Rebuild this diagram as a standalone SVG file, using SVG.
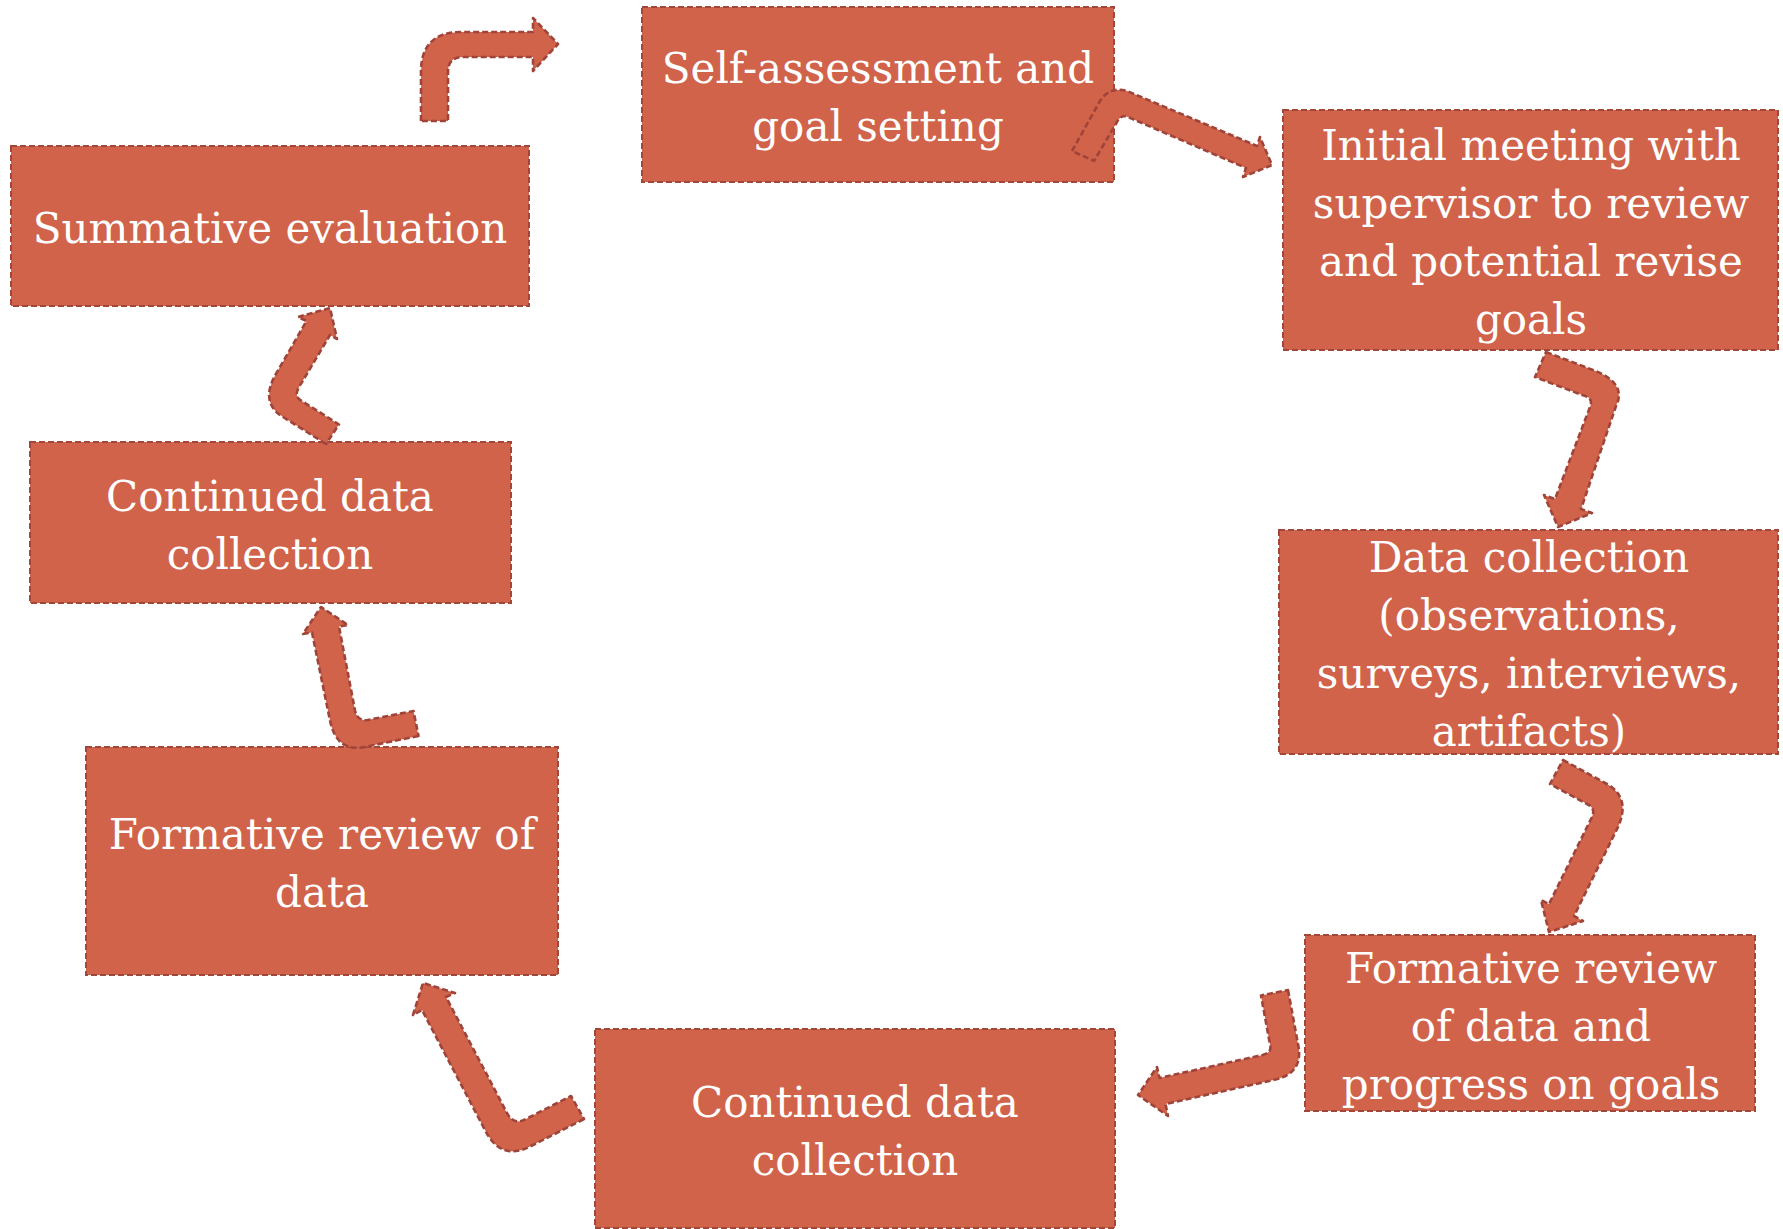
<svg xmlns="http://www.w3.org/2000/svg" width="1783" height="1229" viewBox="0 0 1783 1229">
<style>
.box{fill:#D0634A;stroke:#A2463A;stroke-width:2;stroke-dasharray:6 3}
.arr{fill:#D0634A;stroke:#A0443A;stroke-width:2.6;stroke-dasharray:6 3;stroke-linejoin:round}
.t{font-family:"DejaVu Serif","Liberation Serif",Georgia,serif;font-size:42px;fill:#FFFFFF;text-anchor:middle}
</style>
<rect width="1783" height="1229" fill="#FFFFFF"/>
<g id="n1"><rect class="box" x="642" y="7" width="472" height="175"/>
<text class="t" x="878" y="83">Self-assessment and</text><text class="t" x="878" y="141">goal setting</text></g>
<g id="n2"><rect class="box" x="1283" y="110" width="495" height="240"/>
<text class="t" x="1531" y="160">Initial meeting with</text><text class="t" x="1531" y="218">supervisor to review</text><text class="t" x="1531" y="276">and potential revise</text><text class="t" x="1531" y="334">goals</text></g>
<g id="n3"><rect class="box" x="1279" y="530" width="499" height="224"/>
<text class="t" x="1529" y="572">Data collection</text><text class="t" x="1529" y="630">(observations,</text><text class="t" x="1529" y="688">surveys, interviews,</text><text class="t" x="1529" y="746">artifacts)</text></g>
<g id="n4"><rect class="box" x="1305" y="935" width="450" height="176"/>
<text class="t" x="1531" y="983">Formative review</text><text class="t" x="1531" y="1041">of data and</text><text class="t" x="1531" y="1099">progress on goals</text></g>
<g id="n5"><rect class="box" x="595" y="1029" width="520" height="199"/>
<text class="t" x="855" y="1117">Continued data</text><text class="t" x="855" y="1175">collection</text></g>
<g id="n6"><rect class="box" x="86" y="747" width="472" height="228"/>
<text class="t" x="322" y="849">Formative review of</text><text class="t" x="322" y="907">data</text></g>
<g id="n7"><rect class="box" x="30" y="442" width="481" height="161"/>
<text class="t" x="270" y="511">Continued data</text><text class="t" x="270" y="569">collection</text></g>
<g id="n8"><rect class="box" x="11" y="146" width="518" height="160"/>
<text class="t" x="270" y="243">Summative evaluation</text></g>
<g id="connectors">
<path class="arr" d="M421,121 L421,72 Q421,32 461,32 L533,32 L533,18 L558,44 L533,71 L533,57 L463,57 Q448,57 448,72 L448,121 Z"/>
<path class="arr" d="M1072,151 L1100,101 Q1110,86 1127,91 L1257,146 L1260,137 L1272,165 L1243,177 L1246,168 L1128,117 Q1121,114 1117,122 L1094,161 Z"/>
<path class="arr" d="M1546,352 L1593,370 Q1627.5,383 1616,406 L1581,509 L1592,513 L1558,527 L1544,495 L1555,499 L1590,407 Q1594,397.5 1582,395 L1535,377 Z"/>
<path class="arr" d="M1563,760 L1607,784 Q1631,798 1618,827 L1574,916 L1583,921 L1549,932 L1541,900 L1549,904 L1591,819 Q1597,808.5 1587,804 L1550,784 Z"/>
<path class="arr" d="M1288,990 L1298,1044 Q1304.5,1073.5 1273.5,1080 L1165.5,1104 L1168,1116 L1138,1095 L1157,1067 L1159.5,1078 L1262.5,1055 Q1272.5,1052.5 1270,1044.5 L1261,995.5 Z"/>
<path class="arr" d="M584,1119 L531,1146 Q501,1162 485,1130 L422,1010 L413,1015 L423,983 L455,993 L446,997 L507,1113 Q514,1126 526,1119 L571,1096 Z"/>
<path class="arr" d="M418.5,736 L364.5,747 Q336.5,752.5 330,720.5 L312,632.5 L303,634 L321,607 L348,625 L339,626.5 L355,710.5 Q357.5,721.5 367.5,720 L413.5,711 Z"/>
<path class="arr" d="M326,444 L283,417 Q259,402.5 276.5,373 L306.5,321 L298,317 L330,308 L337,339 L330,335 L298.5,388 Q294,396.5 301,400.5 L339,424.5 Z"/>
</g>
</svg>
